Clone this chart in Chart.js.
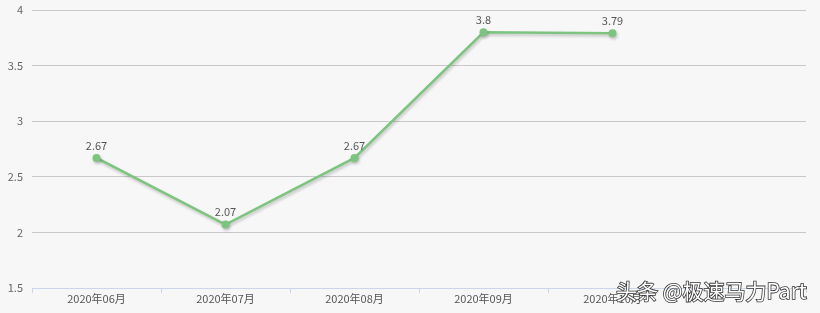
<!DOCTYPE html>
<html>
<head>
<meta charset="utf-8">
<script src="https://cdn.jsdelivr.net/npm/chart.js@4/dist/chart.umd.min.js"></script>
<style>
  html, body { margin: 0; padding: 0; background: #f7f7f7; }
  #wrap { position: relative; width: 820px; height: 313px; }
  #wm { position: absolute; left: 616px; top: 280px; font-family: "Noto Sans CJK SC", sans-serif; font-size: 21px; color: #fff;
        -webkit-text-stroke: 1.6px #333; paint-order: stroke fill; white-space: nowrap; line-height: 1; }
</style>
</head>
<body>
<div id="wrap">
  <canvas id="c" width="820" height="313"></canvas>
  <div id="wm">头条 @极速马力Part</div>
</div>
<script>
const categories = ["2020年06月", "2020年07月", "2020年08月", "2020年09月", "2020年10月", ""];
const values = [2.67, 2.07, 2.67, 3.8, 3.79, null];
const yTicks = [1.5, 2, 2.5, 3, 3.5, 4];

const lineColor = "rgb(124,196,127)";

const shadowPlugin = {
  id: "shadow",
  beforeDatasetDraw(chart) {
    const ctx = chart.ctx;
    ctx.save();
    ctx.shadowColor = "rgba(0,0,0,0.22)";
    ctx.shadowBlur = 3;
    ctx.shadowOffsetX = 1;
    ctx.shadowOffsetY = 2;
  },
  afterDatasetDraw(chart) {
    chart.ctx.restore();
  }
};

const labelPlugin = {
  id: "valueLabels",
  afterDatasetsDraw(chart) {
    const ctx = chart.ctx;
    const meta = chart.getDatasetMeta(0);
    ctx.save();
    ctx.font = '11px "Noto Sans CJK SC", sans-serif';
    ctx.fillStyle = "#555";
    ctx.textAlign = "center";
    ctx.textBaseline = "bottom";
    meta.data.forEach((pt, i) => {
      const v = values[i];
      if (v === null || v === undefined) return;
      ctx.fillText(String(v), pt.x, pt.y - 7);
    });
    ctx.restore();
  }
};

new Chart(document.getElementById("c"), {
  type: "line",
  data: {
    labels: categories,
    datasets: [{
      data: values,
      borderColor: lineColor,
      backgroundColor: lineColor,
      borderWidth: 2.5,
      pointRadius: 4,
      pointHoverRadius: 4,
      pointBorderWidth: 0,
      tension: 0,
      spanGaps: false
    }]
  },
  options: {
    responsive: false,
    animation: false,
    events: [],
    layout: { padding: { top: 10, right: 14, left: 0, bottom: 0 } },
    plugins: { legend: { display: false }, tooltip: { enabled: false } },
    scales: {
      x: {
        offset: true,
        grid: { offset: true, drawOnChartArea: false, drawTicks: true, tickLength: 5, color: "#ccd6eb" },
        border: { color: "#ccd6eb", width: 1 },
        ticks: { color: "#555", font: { family: "Noto Sans CJK SC", size: 11 }, padding: -1, maxRotation: 0, autoSkip: false },
        afterFit(scale) { scale.height = 25; }
      },
      y: {
        min: 1.5, max: 4,
        afterBuildTicks(scale) { scale.ticks = yTicks.map(v => ({ value: v })); },
        grid: { color: "#c8c8c8", drawTicks: false, lineWidth: 1 },
        border: { display: false },
        ticks: { color: "#666", font: { family: "Noto Sans CJK SC", size: 11 }, padding: 9,
                 callback: v => String(v) },
        afterFit(scale) { scale.width = 32; scale.paddingTop = 0; scale.paddingBottom = 0; }
      }
    }
  },
  plugins: [shadowPlugin, labelPlugin]
});
</script>
</body>
</html>
